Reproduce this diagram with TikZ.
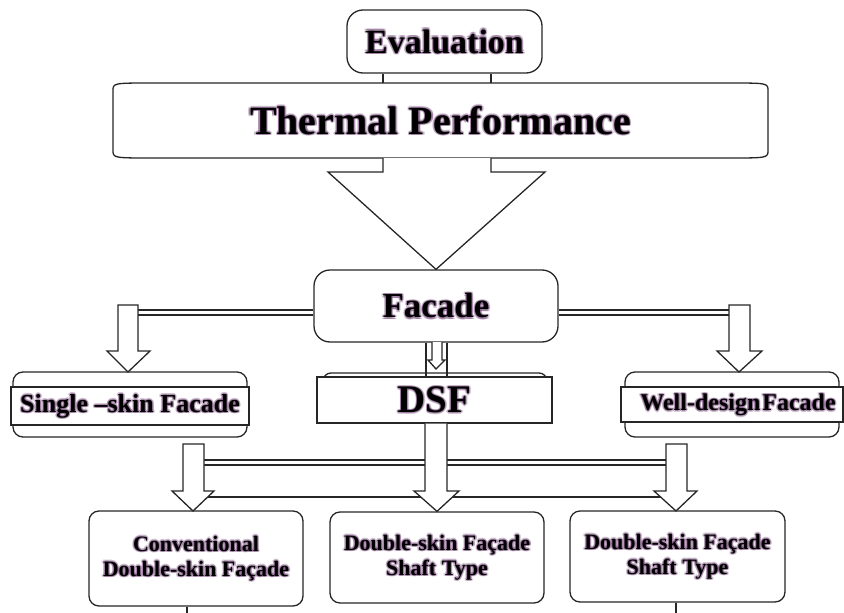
\documentclass[tikz,border=0pt]{standalone}
\usepackage{fontspec}
\setmainfont{Liberation Serif}
\usetikzlibrary{calc}
\definecolor{glowc}{RGB}{110,60,115}
\newcommand{\flatbox}[6]{%
 \draw[shp] (#1,#2+#6) .. controls (#1,#2) and (#1,#2) .. (#1+#5,#2) -- (#3-#5,#2)
   .. controls (#3,#2) and (#3,#2) .. (#3,#2+#6) -- (#3,#4-#6)
   .. controls (#3,#4) and (#3,#4) .. (#3-#5,#4) -- (#1+#5,#4)
   .. controls (#1,#4) and (#1,#4) .. (#1,#4-#6) -- cycle;}
\newcommand{\fsz}[1]{\fontsize{#1}{#1}\selectfont\bfseries}
% glowing text: #1 name, #2 position, #3 font size, #4 text
\newcommand{\gtext}[4]{%
 \foreach \a in {0,45,...,315}
   \node[txt, font=\fsz{#3}, text=glowc, opacity=0.28] at ($#2+(\a:1.6)$) {#4};
 \node[txt, font=\fsz{#3}] (#1) at #2 {#4};}
\tikzset{
 shp/.style={draw=black!85, line width=1.3pt, fill=white},
 ln/.style={draw=black!85, line width=1.3pt},
 rbox/.style={shp, rounded corners=#1, inner sep=0pt},
 band/.style={shp, inner sep=0pt},
 txt/.style={inner sep=0pt, align=center},
}
\begin{document}
\begin{tikzpicture}[x=1pt,y=-1pt]
\useasboundingbox (0,0) rectangle (844,613);
% top
\node[rbox=16pt, minimum width=195pt, minimum height=63pt] (eval) at (444.5,41.5) {};
\gtext{evalt}{(eval.center)}{34}{Evaluation}
\flatbox{113}{83}{768}{158}{40}{8}
\node[txt, minimum width=655pt, minimum height=75pt] (therm) at (440.5,120.5) {};
\gtext{thermt}{(therm.center)}{40}{Thermal Performance}
\draw[ln] ([xshift=-61.5pt]eval.south) -- ([xshift=-61.5pt]eval.south |- therm.north);
\draw[ln] ([xshift=46.5pt]eval.south) -- ([xshift=46.5pt]eval.south |- therm.north);
% facade
\node[rbox=16pt, minimum width=244pt, minimum height=72pt] (facade) at (436,306) {};
\gtext{facadet}{(facade.center)}{35}{Facade}
\draw[shp] (383,158) -- (383,172) -- (328,172) -- (facade.north) -- (545,172) -- (491,172) -- (491,158);
% second row
\draw[rbox=10pt] (13,372) rectangle (247,437);
\node[band, minimum width=238pt, minimum height=38pt] (single) at (130,406) {};
\gtext{singlet}{(single.center)}{26}{Single –skin Facade}
\draw[rbox=10pt] (625,372) rectangle (839,437);
\node[band, minimum width=222pt, minimum height=35pt] (well) at (732,404.5) {};
\gtext{wellt}{(738,405)}{24}{Well-design\hspace{2pt}Facade}
\draw[rbox=8pt] (323,373) rectangle (547,410);
\node[band, minimum width=235pt, minimum height=46pt] (dsf) at (434.5,400) {};
\gtext{dsft}{(dsf.center)}{39}{DSF}
% side connectors
\draw[ln] ([yshift=-4pt]facade.west) -- (138,310);
\draw[ln] ([yshift=-9pt]facade.west) -- (138,315);
\draw[ln] ([yshift=-4pt]facade.east) -- (729,310);
\draw[ln] ([yshift=-9pt]facade.east) -- (729,315);
\draw[shp] (118,305) -- (138,305) -- (138,351) -- (150,351) -- (128,372) -- (107,351) -- (118,351) -- cycle;
\draw[shp] (729,305) -- (750,305) -- (750,351) -- (762,351) -- (739,372) -- (717,351) -- (729,351) -- cycle;
% facade to dsf
\draw[ln] (facade.south -| 426,0) -- (dsf.north -| 426,0);
\draw[ln] (facade.south -| 447,0) -- (dsf.north -| 447,0);
\draw[shp] (432,342) -- (432,360) -- (428,360) -- (436,369) -- (445,360) -- (442,360) -- (442,342);
% bottom row
\node[rbox=10pt, minimum width=214pt, minimum height=95pt] (b1) at (196,558.5) {};
\gtext{b1t}{(b1.center)}{22}{Conventional\\[3pt]Double-skin Façade}
\node[rbox=10pt, minimum width=214pt, minimum height=91pt] (b2) at (437,557.5) {};
\gtext{b2t}{(b2.center)}{22}{Double-skin Façade\\[3pt]Shaft Type}
\node[rbox=10pt, minimum width=215pt, minimum height=91pt] (b3) at (677.5,556.5) {};
\gtext{b3t}{(b3.center)}{22}{Double-skin Façade\\[3pt]Shaft Type}
% lower connectors
\draw[ln] (193,497) -- (676,497);
\draw[ln] (204,460) -- (425,460);
\draw[ln] (204,465) -- (425,465);
\draw[ln] (447,460) -- (666,460);
\draw[ln] (447,465) -- (666,465);
\draw[shp] (183,444) -- (204,444) -- (204,491) -- (214,491) -- (193,511) -- (172,491) -- (183,491) -- cycle;
\draw[shp] (666,444) -- (687,444) -- (687,491) -- (697,491) -- (676,511) -- (654,491) -- (666,491) -- cycle;
\draw[shp] (dsf.south -| 425,0) -- (425,491) -- (414,491) -- (b2.north) -- (459,491) -- (447,491) -- (dsf.south -| 447,0);
\draw[ln] (b1.south -| 187,0) -- (187,613);
\draw[ln] (b3.south -| 676,0) -- (676,613);
\end{tikzpicture}
\end{document}
